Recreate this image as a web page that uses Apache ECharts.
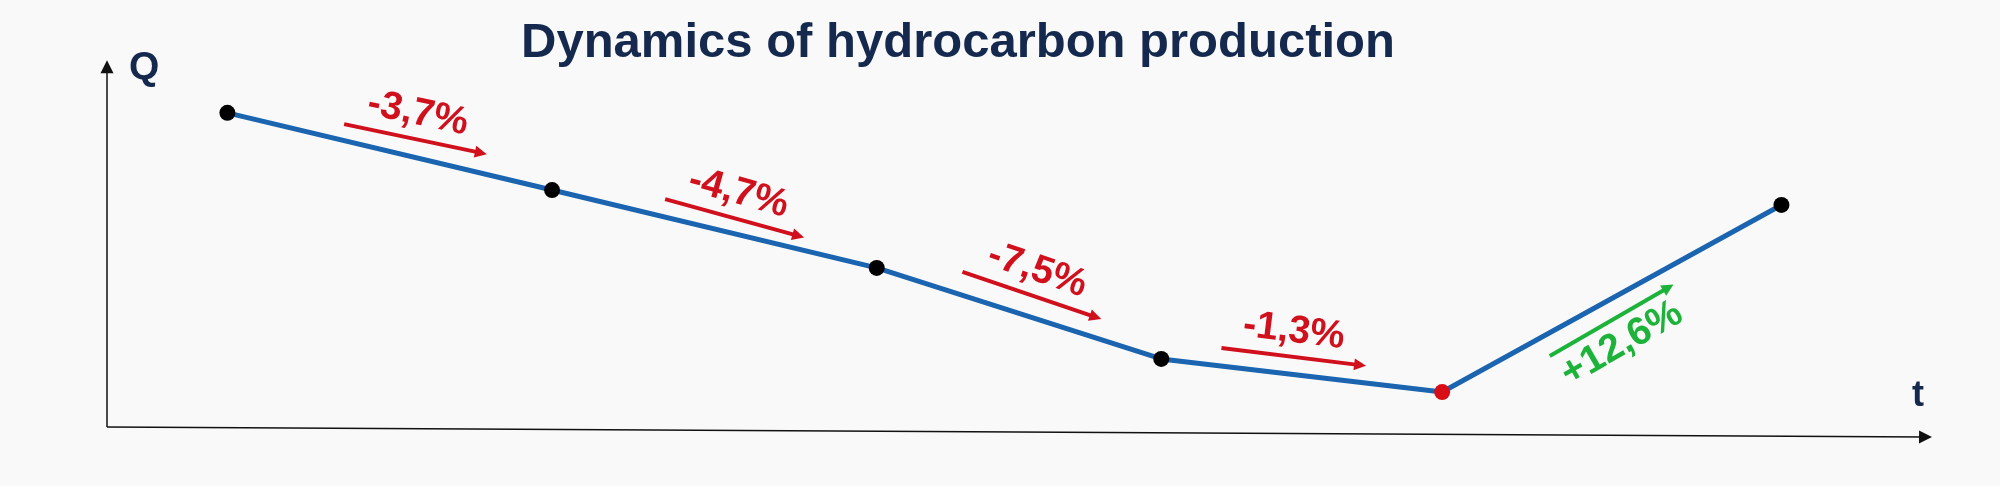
<!DOCTYPE html>
<html>
<head>
<meta charset="utf-8">
<script src="https://cdn.jsdelivr.net/npm/echarts@6/dist/echarts.min.js"></script>
<style>
  html, body { margin: 0; padding: 0; background: #f9f9f9; }
  #chart { width: 2000px; height: 486px; }
</style>
</head>
<body>
<div id="chart"></div>
<script>
// time positions and production level (relative units)
const times = [6.6, 24.4, 42.2, 57.8, 73.2, 91.8];
const production = [86.3, 65.1, 43.7, 18.7, 9.6, 61.0];
const minIndex = 4; // the lowest point is drawn red

// period-to-period change arrows
const changeLabels = ['-3,7%', '-4,7%', '-7,5%', '-1,3%', '+12,6%'];
const arrowFrom = [[13.0, 83.2], [30.6, 62.6], [46.9, 42.6], [61.1, 21.7], [79.1, 19.5]];
const arrowTo = [[20.5, 75.3], [37.9, 52.5], [54.2, 30.2], [68.7, 17.0], [85.6, 38.3]];

// axes drawn as arrows: Q up, t slightly sloping to the right
const qAxis = [[0, 0], [0, 99]];
const tAxis = [[0, 0], [99.7, -2.75]];

const FONT = '"Liberation Sans", Arial, sans-serif';
const NAVY = '#15294f';
const RED = '#d0101c';
const GREEN = '#1db33a';

const chart = echarts.init(document.getElementById('chart'));

const arrowLines = changeLabels.map((txt, i) => {
  const up = txt[0] === '+';
  const color = up ? GREEN : RED;
  return [
    {
      coord: arrowFrom[i],
      lineStyle: { color: color, width: 4, type: 'solid' },
      itemStyle: { color: color },
      label: {
        show: true,
        formatter: txt,
        position: up ? 'insideMiddleBottom' : 'insideMiddleTop',
        distance: 6,
        color: color,
        fontSize: 39,
        fontWeight: 'bold',
        fontFamily: FONT
      }
    },
    { coord: arrowTo[i], itemStyle: { color: color } }
  ];
});

const option = {
  backgroundColor: '#f9f9f9',
  animation: false,
  title: {
    text: 'Dynamics of hydrocarbon production',
    left: 953,
    top: 14,
    textAlign: 'center',
    textStyle: { color: NAVY, fontSize: 49, fontWeight: 'bold', fontFamily: FONT }
  },
  grid: { left: 107, right: 69, top: 63, height: 400.4 },
  xAxis: { type: 'value', min: 0, max: 100, show: false },
  yAxis: { type: 'value', min: -10, max: 100, show: false },
  graphic: [
    { type: 'text', left: 129, top: 49, style: { text: 'Q', fill: NAVY, font: 'bold 39px ' + FONT } },
    { type: 'text', left: 1912, top: 378, style: { text: 't', fill: NAVY, font: 'bold 36px ' + FONT } }
  ],
  series: [
    {
      name: 'axes',
      type: 'line',
      data: [],
      silent: true,
      markLine: {
        silent: true,
        animation: false,
        symbol: ['none', 'triangle'],
        symbolSize: 13,
        label: { show: false },
        itemStyle: { color: '#111' },
        lineStyle: { color: '#111', width: 1.5, type: 'solid' },
        emphasis: { disabled: true },
        data: [
          [{ coord: qAxis[0] }, { coord: qAxis[1] }],
          [{ coord: tAxis[0] }, { coord: tAxis[1] }]
        ]
      }
    },
    {
      name: 'production',
      type: 'line',
      data: times.map((t, i) => ({
        value: [t, production[i]],
        itemStyle: { color: i === minIndex ? '#d90d16' : '#000' }
      })),
      symbol: 'circle',
      symbolSize: 16,
      lineStyle: { color: '#1a64b0', width: 5 },
      itemStyle: { color: '#000', borderWidth: 0 },
      emphasis: { disabled: true },
      z: 3
    },
    {
      name: 'changes',
      type: 'line',
      data: [],
      silent: true,
      markLine: {
        silent: true,
        animation: false,
        symbol: ['none', 'triangle'],
        symbolSize: 12,
        emphasis: { disabled: true },
        data: arrowLines
      }
    }
  ]
};

chart.setOption(option);
window.addEventListener('resize', () => chart.resize());
</script>
</body>
</html>
